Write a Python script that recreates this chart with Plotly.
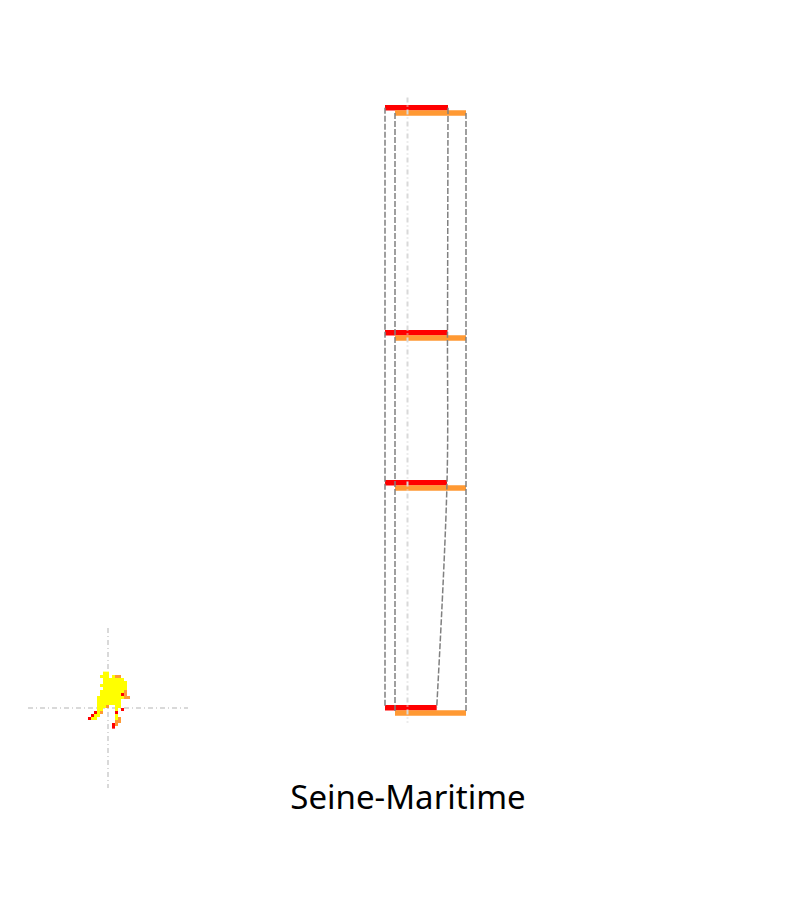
import plotly.graph_objects as go

# ---------------- data ----------------
level_y = [8, 5, 3, 0]                    # vertical positions of the four levels
red_base = -22.5
red_len = [63.0, 62.5, 62.0, 51.7]
orange_base = -12.5
orange_len = [71.0, 71.0, 71.0, 71.0]

# mini map cells: y = yellow, o = orange, r = red
map_rows = [
    ".....yy.......",
    "....yyy.yoo...",
    ".....yyyyyyy..",
    ".....yyyyyyyy.",
    "....yyyyyyyyy.",
    ".....yyyyyyyy.",
    "....yyyyyyyyo.",
    "....yyyyyyyro.",
    "...yyyyyyyyyoo",
    "...yyyyyyyy...",
    "...yyyyyyyy...",
    "...yyyo..yy...",
    "...yy....y.r..",
    "..ryo....r....",
    ".ryy.....y....",
    "ryy......yo...",
    ".........oo...",
    "........ro....",
    "........r.....",
]
title_text = "Seine-Maritime"

# ---------------- styles ----------------
RED = "#FF0000"
ORANGE = "#FF9933"
YELLOW = "#FFFF00"
GRAY = "#808080"
LIGHT = "#D9D9D9"
OFF = 8              # page body margin
px_y = 75.0          # pixels per y unit in main chart
bar_th = 5.5 / px_y
orange_shift = 5.25 / px_y

fig = go.Figure()

red_end = [red_base + v for v in red_len]
orange_end = [orange_base + v for v in orange_len]

fig.add_trace(go.Bar(orientation="h", y=level_y, x=red_len, base=[red_base] * len(level_y),
                     width=bar_th, offset=-bar_th / 2, marker=dict(color=RED, line=dict(width=0)),
                     xaxis="x", yaxis="y", showlegend=False, hoverinfo="skip"))
fig.add_trace(go.Bar(orientation="h", y=level_y, x=orange_len, base=[orange_base] * len(level_y),
                     width=bar_th, offset=-orange_shift - bar_th / 2,
                     marker=dict(color=ORANGE, line=dict(width=0)),
                     xaxis="x", yaxis="y", showlegend=False, hoverinfo="skip"))

dash_style = dict(color=GRAY, width=1.5, dash="6px,2px")
orange_y = [v - orange_shift for v in level_y]
for xs, ys, shape in [
    ([red_base] * len(level_y), level_y, "linear"),
    (red_end, level_y, "spline"),
    ([orange_base] * len(level_y), orange_y, "linear"),
    (orange_end, orange_y, "linear"),
]:
    fig.add_trace(go.Scatter(x=xs, y=ys, mode="lines", line=dict(shape=shape, **dash_style),
                             xaxis="x", yaxis="y", showlegend=False, hoverinfo="skip"))

light_style = dict(color=LIGHT, width=2, dash="5px,3px,1px,3px")

# light centre line of the main chart
top_ext = max(level_y) + 10.25 / px_y
bot_ext = min(level_y) - 14.75 / px_y
fig.add_trace(go.Scatter(x=[0, 0], y=[top_ext, bot_ext], mode="lines", line=light_style,
                         xaxis="x", yaxis="y", showlegend=False, hoverinfo="skip"))

# ---------------- mini map ----------------
code = {"y": 1, "o": 2, "r": 3, ".": None}
z = [[code[c] for c in row] for row in map_rows]
cx, cy, half = 6.17, 11.62, 80 / 3.0

fig.add_trace(go.Scatter(x=[cx - half, cx + half], y=[cy, cy], mode="lines", line=light_style,
                         xaxis="x2", yaxis="y2", showlegend=False, hoverinfo="skip"))
fig.add_trace(go.Scatter(x=[cx, cx], y=[cy - half, cy + half], mode="lines", line=light_style,
                         xaxis="x2", yaxis="y2", showlegend=False, hoverinfo="skip"))
fig.add_trace(go.Heatmap(z=z, zmin=0.5, zmax=3.5, showscale=False,
                         colorscale=[[0, YELLOW], [1 / 3, YELLOW], [1 / 3, ORANGE],
                                     [2 / 3, ORANGE], [2 / 3, RED], [1, RED]],
                         xaxis="x3", yaxis="y3", hoverinfo="skip"))

hidden = dict(visible=False, showgrid=False, zeroline=False, fixedrange=True)
W, H = 800, 900
x_main0 = 407.5 - OFF
y_main0 = 707.75 - OFF
fig.update_layout(
    width=W, height=H, autosize=False,
    margin=dict(l=0, r=0, t=0, b=0),
    paper_bgcolor="white", plot_bgcolor="rgba(0,0,0,0)",
    barmode="overlay",
    xaxis=dict(domain=[0, 1], range=[-x_main0, W - x_main0], **hidden),
    yaxis=dict(domain=[0, 1], range=[(y_main0 - H) / px_y, y_main0 / px_y], **hidden),
    xaxis2=dict(domain=[(28 - OFF) / W, (188 - OFF) / W], range=[cx - half, cx + half],
                anchor="y2", **hidden),
    yaxis2=dict(domain=[1 - (788 - OFF) / H, 1 - (628 - OFF) / H], range=[cy + half, cy - half],
                anchor="x2", **hidden),
    xaxis3=dict(overlaying="x2", range=[cx - half, cx + half], anchor="y3", **hidden),
    yaxis3=dict(overlaying="y2", range=[cy + half, cy - half], anchor="x3", **hidden),
    title=dict(text=title_text, x=(408 - OFF) / W, xanchor="center", y=1 - (797 - OFF) / H,
               yanchor="middle", font=dict(family="Noto Sans", size=33, color="black")),
    showlegend=False,
)

fig.write_html("out.html")
